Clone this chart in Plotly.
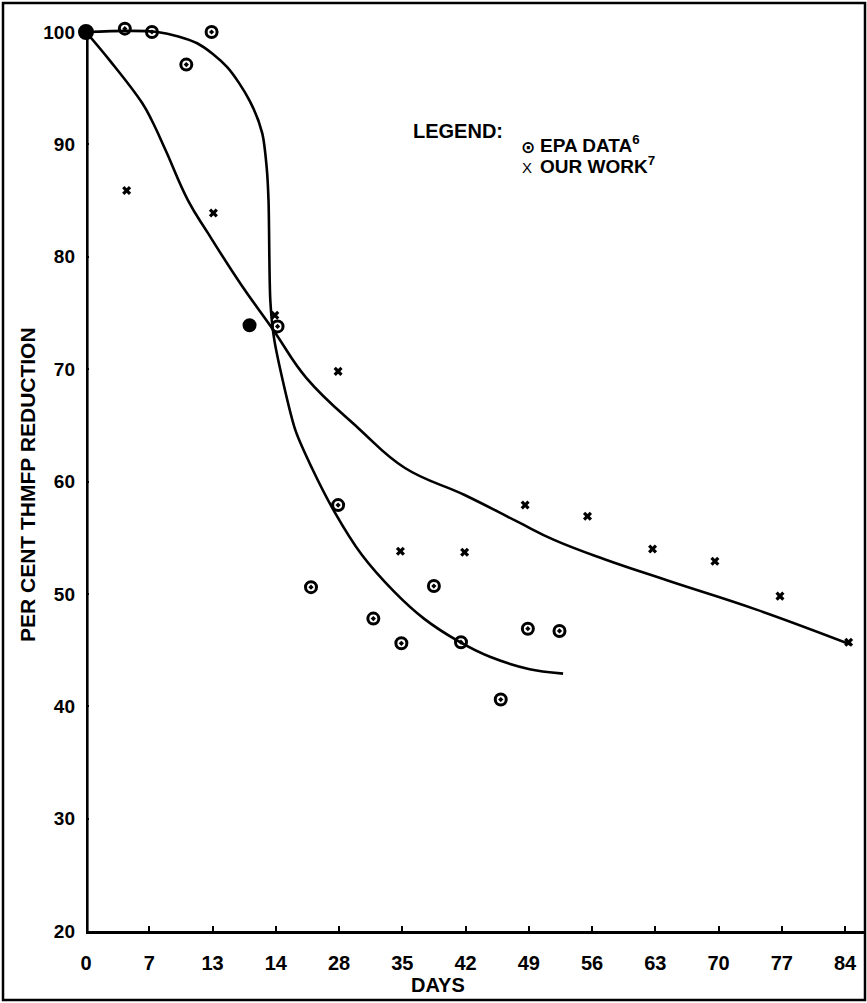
import plotly.graph_objects as go

# ---- data ----
tick_vals = [0, 7, 14, 21, 28, 35, 42, 49, 56, 63, 70, 77, 84]
tick_text = ["0", "7", "13", "14", "28", "35", "42", "49", "56", "63", "70", "77", "84"]
y_ticks = [20, 30, 40, 50, 60, 70, 80, 90, 100]

epa_days = [0, 4.3, 7.3, 11.1, 13.9, 18.1, 21.2, 27.9, 24.9, 31.8, 34.9, 38.5, 41.5, 45.9, 48.9, 52.4]
epa_pct = [100, 100.3, 100, 97.1, 100, 73.9, 73.8, 57.9, 50.6, 47.8, 45.6, 50.7, 45.7, 40.6, 46.9, 46.7]

our_days = [0, 4.5, 14.1, 20.9, 27.9, 34.8, 41.9, 48.6, 55.5, 62.7, 69.6, 76.8, 84.4]
our_pct = [100, 85.9, 83.9, 74.8, 69.8, 53.8, 53.7, 57.9, 56.9, 54.0, 52.9, 49.8, 45.7]

epa_fit_days = [0, 7.9, 12.3, 15.6, 18.1, 19.5, 20.0, 20.2, 20.4, 20.8, 21.8, 23.2, 25.0,
                27.5, 30.5, 34.1, 37.4, 41.4, 44.7, 49.1, 52.8]
epa_fit_pct = [100, 100, 99.0, 96.9, 93.9, 91.0, 87.9, 85.0, 76.1, 72.8, 68.9, 64.5, 61.2,
               57.3, 53.5, 50.2, 47.8, 45.7, 44.4, 43.3, 42.9]

our_fit_days = [0, 2.6, 6.2, 7.3, 8.8, 11.3, 13.5, 17.1, 20.8, 24.4, 30.2, 35.3, 41.9,
                47.8, 51.8, 57.3, 64.7, 74.2, 84.6]
our_fit_pct = [100, 97.5, 93.7, 92.1, 89.5, 85.0, 82.1, 77.6, 73.4, 69.2, 64.7, 61.2, 58.8,
               56.4, 54.8, 53.1, 51.1, 48.6, 45.5]

# ---- layout geometry (pixels) ----
W, H = 867, 1003
L, R, T, B = 86, 864, 32, 931
PX_PER_DAY = 9.036
Y_LO, Y_TOP = 20, 100
PX_PER_UNIT = (B - T) / (Y_TOP - Y_LO)
T_PLOT = 12                      # plot area top (pixels), a bit above the 100 line
Y_HI = Y_TOP + (T - T_PLOT) / PX_PER_UNIT


def px(xp):
    return (xp - L) / (R - L)


def py(yp):
    return (B - yp) / (B - T_PLOT)


FONT = "Liberation Sans, Arial, sans-serif"

fig = go.Figure()

fig.add_trace(go.Scatter(x=epa_fit_days, y=epa_fit_pct, mode="lines",
                         line=dict(color="black", width=2.6, shape="spline", smoothing=0.8),
                         hoverinfo="skip", cliponaxis=False))
fig.add_trace(go.Scatter(x=our_fit_days, y=our_fit_pct, mode="lines",
                         line=dict(color="black", width=2.6, shape="spline", smoothing=1.2),
                         hoverinfo="skip", cliponaxis=False))

epa_symbols = ["circle" if i in (0, 5) else "circle-open-dot" for i in range(len(epa_days))]
epa_sizes = [13 if i == 0 else 11 for i in range(len(epa_days))]
fig.add_trace(go.Scatter(x=epa_days, y=epa_pct, mode="markers", name="EPA DATA",
                         marker=dict(symbol=epa_symbols, size=epa_sizes, color="black",
                                     opacity=1, line=dict(color="black", width=3)),
                         cliponaxis=False))
fig.add_trace(go.Scatter(x=our_days, y=our_pct, mode="markers", name="OUR WORK",
                         marker=dict(symbol="x", size=8, color="black", opacity=1,
                                     line=dict(width=0)),
                         cliponaxis=False))

fig.update_xaxes(range=[0, (R - L) / PX_PER_DAY], tickvals=tick_vals, ticktext=tick_text,
                 showline=True, linecolor="black", linewidth=2.5, mirror=False,
                 ticks="inside", ticklen=5, tickwidth=2, tickcolor="black",
                 showgrid=False, zeroline=False,
                 tickfont=dict(family=FONT, size=20, color="black", weight="bold"),
                 ticklabelstandoff=12)
fig.update_yaxes(range=[Y_LO, Y_HI], tickvals=y_ticks,
                 showline=False,
                 ticks="inside", ticklen=3, tickwidth=2, tickcolor="black",
                 showgrid=False, zeroline=False,
                 tickfont=dict(family=FONT, size=19, color="black", weight="bold"),
                 ticklabelstandoff=10)

ann_font = dict(family=FONT, size=19, color="black", weight="bold")
annotations = [
    dict(text="DAYS", x=px(438), y=py(985), xref="paper", yref="paper",
         showarrow=False, font=dict(family=FONT, size=20, color="black", weight="bold"),
         xanchor="center", yanchor="middle"),
    dict(text="PER CENT THMFP REDUCTION", x=px(27), y=py(485), xref="paper", yref="paper",
         showarrow=False, font=dict(family=FONT, size=21, color="black", weight="bold"),
         textangle=-90, xanchor="center", yanchor="middle"),
    dict(text="LEGEND:", x=px(458), y=py(131), xref="paper", yref="paper",
         showarrow=False, font=dict(family=FONT, size=20, color="black", weight="bold"),
         xanchor="center", yanchor="middle"),
    dict(text="⊙", x=px(528), y=py(147), xref="paper", yref="paper",
         showarrow=False, font=dict(family="DejaVu Sans", size=17, color="black", weight="bold"),
         xanchor="center", yanchor="middle"),
    dict(text="EPA DATA<sup>6</sup>", x=px(538), y=py(144), xref="paper", yref="paper",
         showarrow=False, font=ann_font, xanchor="left", yanchor="middle"),
    dict(text="X", x=px(527), y=py(167), xref="paper", yref="paper",
         showarrow=False, font=dict(family=FONT, size=15, color="black"),
         xanchor="center", yanchor="middle"),
    dict(text="OUR WORK<sup>7</sup>", x=px(538), y=py(165), xref="paper", yref="paper",
         showarrow=False, font=ann_font, xanchor="left", yanchor="middle"),
]

shapes = [
    dict(type="rect", xref="paper", yref="paper",
         x0=px(3), x1=px(865), y0=py(1000), y1=py(3),
         line=dict(color="black", width=2.5), fillcolor="rgba(0,0,0,0)", layer="below"),
    # y-axis line from 20 to 100, nudged inside the plot area so it is not clipped
    dict(type="line", xref="paper", yref="y", x0=px(L + 1.3), x1=px(L + 1.3), y0=Y_LO, y1=Y_TOP,
         line=dict(color="black", width=2.6), layer="above"),
]

fig.update_layout(width=W, height=H, margin=dict(l=L, r=W - R, t=T_PLOT, b=H - B),
                  plot_bgcolor="white", paper_bgcolor="white", showlegend=False,
                  annotations=annotations, shapes=shapes,
                  font=dict(family=FONT, color="black"))

fig.write_html("out.html", config={"displayModeBar": False})

# remove the browser's default page margin so the figure sits at (0, 0)
with open("out.html", "r", encoding="utf-8") as f:
    html = f.read()
html = html.replace("<head>", "<head><style>html,body{margin:0;padding:0;}</style>", 1)
with open("out.html", "w", encoding="utf-8") as f:
    f.write(html)
